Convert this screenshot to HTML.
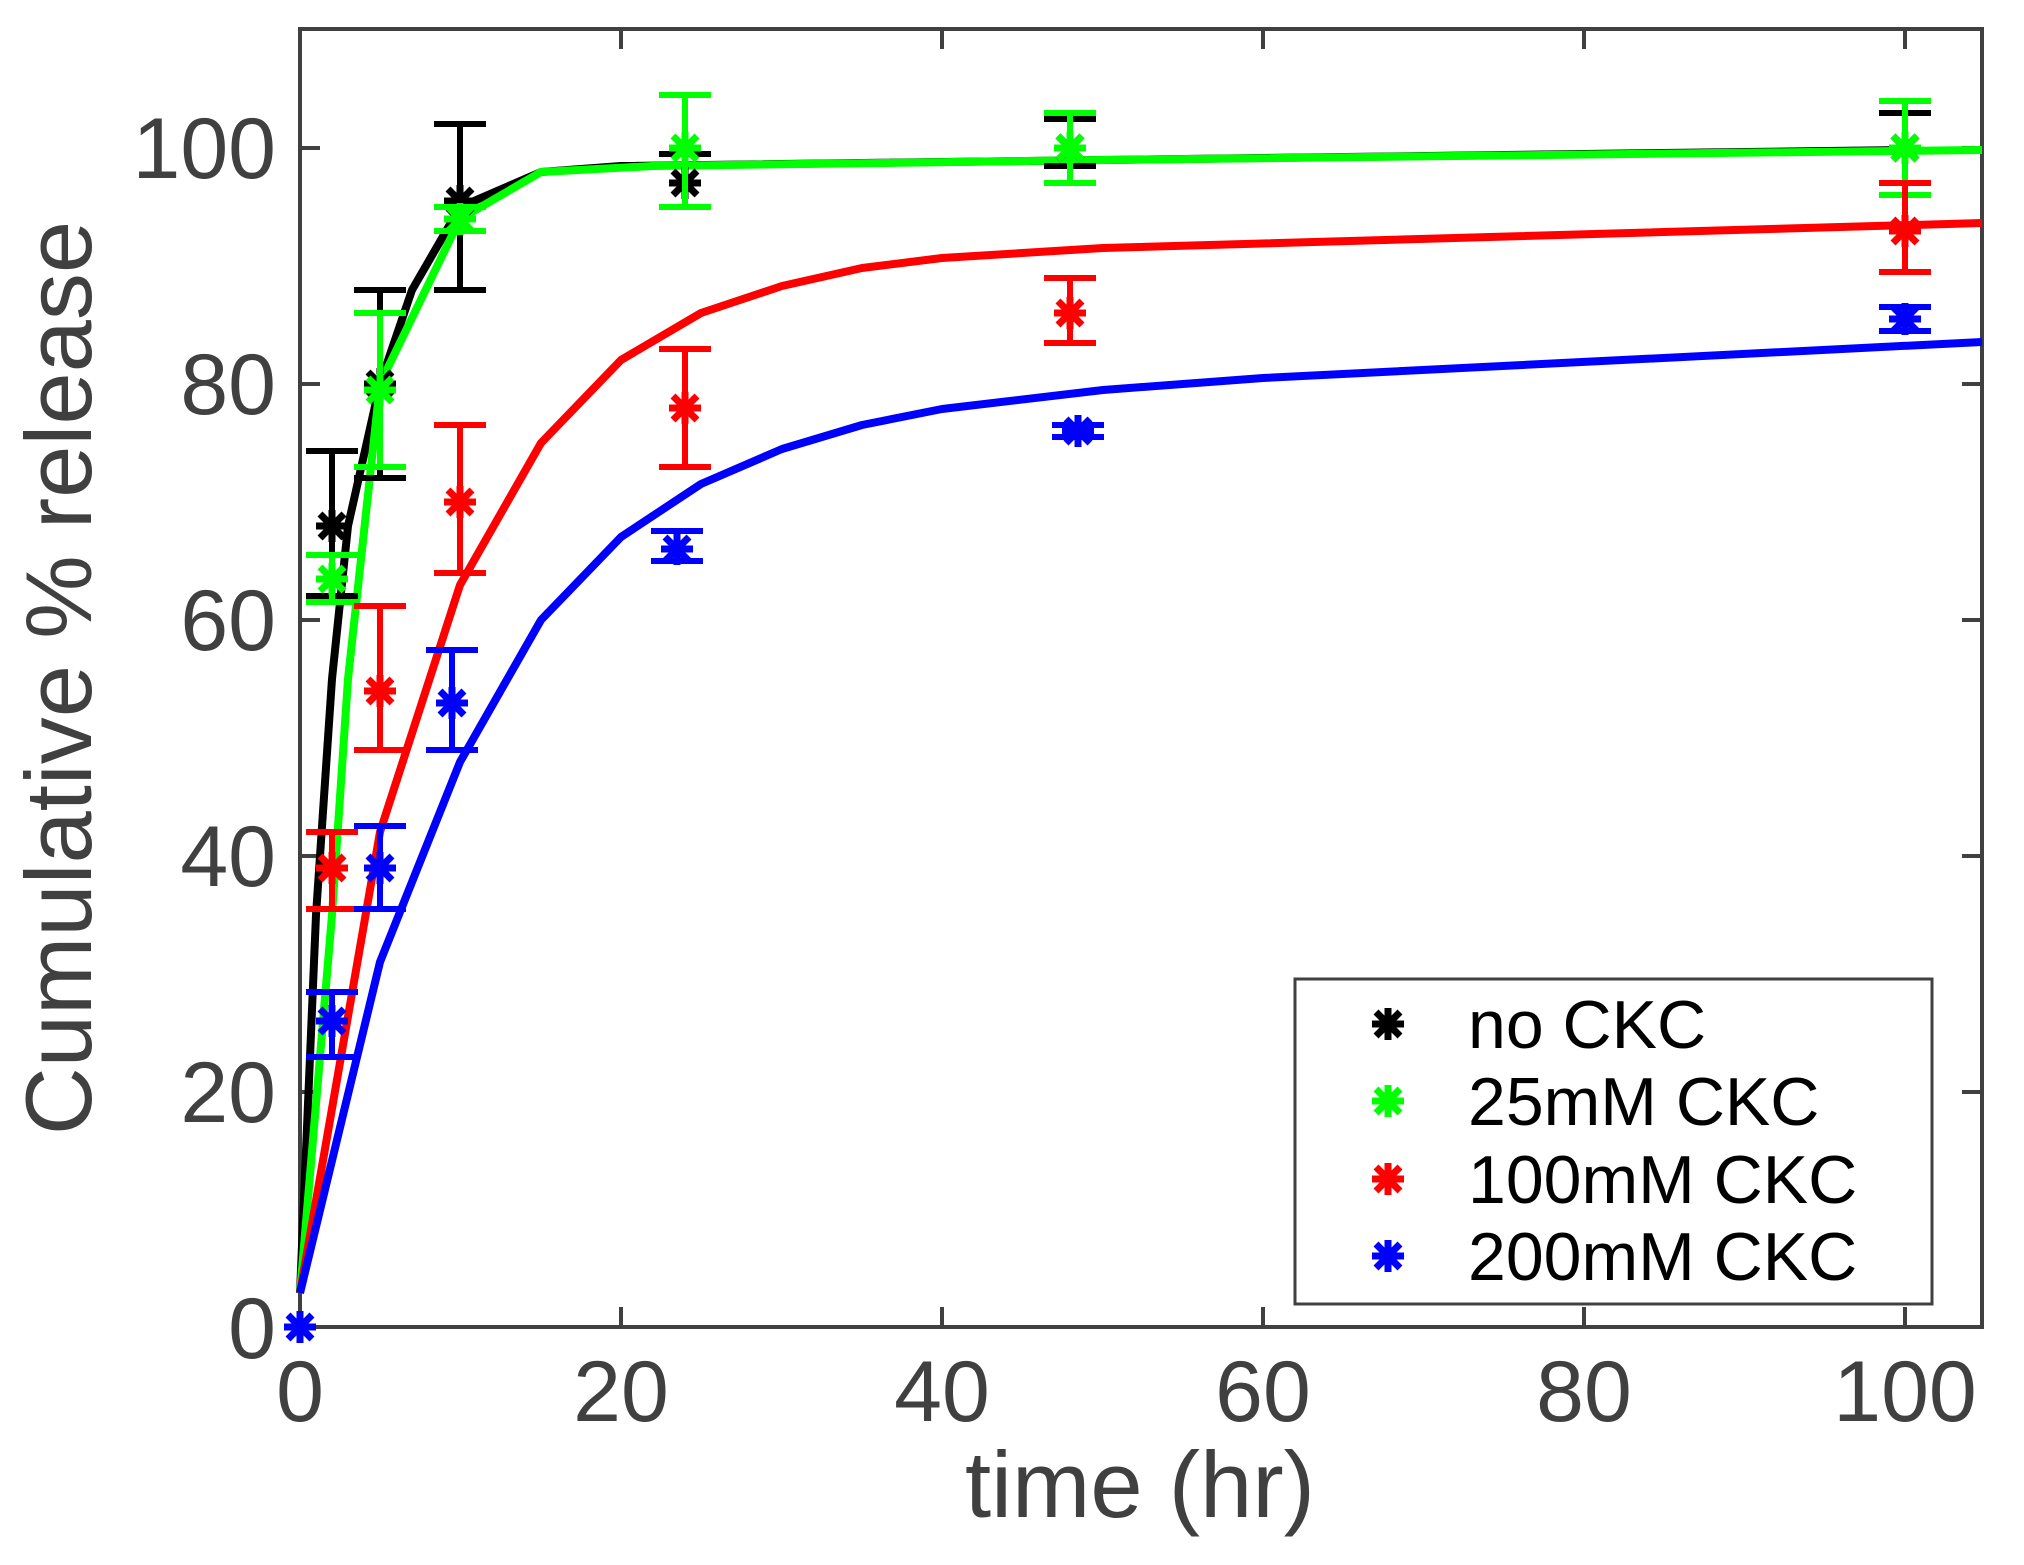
<!DOCTYPE html>
<html><head><meta charset="utf-8"><style>html,body{margin:0;padding:0;background:#fff}svg{display:block}</style></head>
<body>
<svg width="2024" height="1565" viewBox="0 0 2024 1565" xmlns="http://www.w3.org/2000/svg">
<defs>
<g id="a"><path d="M-16 0H16M0-16V16M-12-12L12 12M-12 12L12-12" stroke-width="7"/></g>
</defs>
<rect x="0" y="0" width="2024" height="1565" fill="#fff"/>
<g fill="none" stroke="#404040" stroke-width="4">
<rect x="300" y="29" width="1682" height="1298"/>
<path d="M621 1327v-20M942 1327v-20M1263 1327v-20M1584 1327v-20M1905 1327v-20M621 29v20M942 29v20M1263 29v20M1584 29v20M1905 29v20
M300 1092h20M300 856h20M300 620h20M300 384h20M300 148h20M1982 1092h-20M1982 856h-20M1982 620h-20M1982 384h-20M1982 148h-20"/>
</g>
<g font-family="Liberation Sans, sans-serif" fill="#404040" font-size="86">
<g text-anchor="middle">
<text x="300" y="1421">0</text><text x="621" y="1421">20</text><text x="942" y="1421">40</text><text x="1263" y="1421">60</text><text x="1584" y="1421">80</text><text x="1905" y="1421">100</text>
</g>
<g text-anchor="end">
<text x="276" y="1358">0</text><text x="276" y="1122">20</text><text x="276" y="886">40</text><text x="276" y="650">60</text><text x="276" y="414">80</text><text x="276" y="178">100</text>
</g>
<text x="1140" y="1517" text-anchor="middle" font-size="94">time (hr)</text>
<text transform="translate(91,678) rotate(-90)" text-anchor="middle" font-size="94">Cumulative % release</text>
</g>
<g fill="none" stroke-width="8" stroke-linejoin="round">
<polyline stroke="#000" points="300,1293 316,915 332,679 348,526 380,384 412,290 460,207 541,172 621,166 1905,150"/>
<polyline stroke="#00ff00" points="300,1293 332,915 348,679 380,384 460,219 541,172 653,166 1103,160 1982,150"/>
<polyline stroke="#ff0000" points="300,1293 380,832 460,585 541,443 621,360 701,313 782,286 862,268 942,258 1103,248 1982,223"/>
<polyline stroke="#0000ff" points="300,1293 380,962 460,762 541,620 621,537 701,484 782,449 862,425 942,409 1103,390 1263,378 1982,342"/>
</g>
<g stroke="#000" fill="none" stroke-width="6">
<path d="M332 596V451M306 596h52M306 451h52 M380 478V290M354 478h52M354 290h52 M460 290V124M434 290h52M434 124h52 M685 207V154M659 207h52M659 154h52 M1070 166V119M1044 166h52M1044 119h52 M1905 183V113M1879 183h52M1879 113h52"/>
<use href="#a" x="332" y="526"/><use href="#a" x="380" y="384"/><use href="#a" x="460" y="201"/><use href="#a" x="685" y="183"/><use href="#a" x="1070" y="148"/><use href="#a" x="1905" y="148"/>
</g>
<g stroke="#00ff00" fill="none" stroke-width="6">
<path d="M332 602V555M306 602h52M306 555h52 M380 467V313M354 467h52M354 313h52 M460 231V207M434 231h52M434 207h52 M685 207V95M659 207h52M659 95h52 M1070 183V113M1044 183h52M1044 113h52 M1905 195V101M1879 195h52M1879 101h52"/>
<use href="#a" x="332" y="579"/><use href="#a" x="380" y="390"/><use href="#a" x="460" y="219"/><use href="#a" x="685" y="148"/><use href="#a" x="1070" y="148"/><use href="#a" x="1905" y="148"/>
</g>
<g stroke="#ff0000" fill="none" stroke-width="6">
<path d="M332 909V832M306 909h52M306 832h52 M380 750V606M354 750h52M354 606h52 M460 573V425M434 573h52M434 425h52 M685 467V349M659 467h52M659 349h52 M1070 343V278M1044 343h52M1044 278h52 M1905 272V183M1879 272h52M1879 183h52"/>
<use href="#a" x="332" y="868"/><use href="#a" x="380" y="691"/><use href="#a" x="460" y="502"/><use href="#a" x="685" y="408"/><use href="#a" x="1070" y="313"/><use href="#a" x="1905" y="231"/>
</g>
<g stroke="#0000ff" fill="none" stroke-width="6">
<path d="M332 1057V992M306 1057h52M306 992h52 M380 909V826M354 909h52M354 826h52 M452 750V650M426 750h52M426 650h52 M677 561V531M651 561h52M651 531h52 M1078 437V425M1052 437h52M1052 425h52 M1905 331V307M1879 331h52M1879 307h52"/>
<use href="#a" x="300" y="1327"/><use href="#a" x="332" y="1021"/><use href="#a" x="380" y="868"/><use href="#a" x="452" y="703"/><use href="#a" x="677" y="549"/><use href="#a" x="1078" y="431"/><use href="#a" x="1905" y="319"/>
</g>
<rect x="1295" y="979" width="637" height="325" fill="#fff" stroke="#404040" stroke-width="3"/>
<g fill="none"><use href="#a" x="1388" y="1024" stroke="#000"/><use href="#a" x="1388" y="1101" stroke="#00ff00"/><use href="#a" x="1388" y="1179" stroke="#ff0000"/><use href="#a" x="1388" y="1256" stroke="#0000ff"/></g>
<g font-family="Liberation Sans, sans-serif" font-size="68" fill="#000">
<text x="1468" y="1048">no CKC</text><text x="1468" y="1125">25mM CKC</text><text x="1468" y="1203">100mM CKC</text><text x="1468" y="1280">200mM CKC</text>
</g>
</svg>
</body></html>
